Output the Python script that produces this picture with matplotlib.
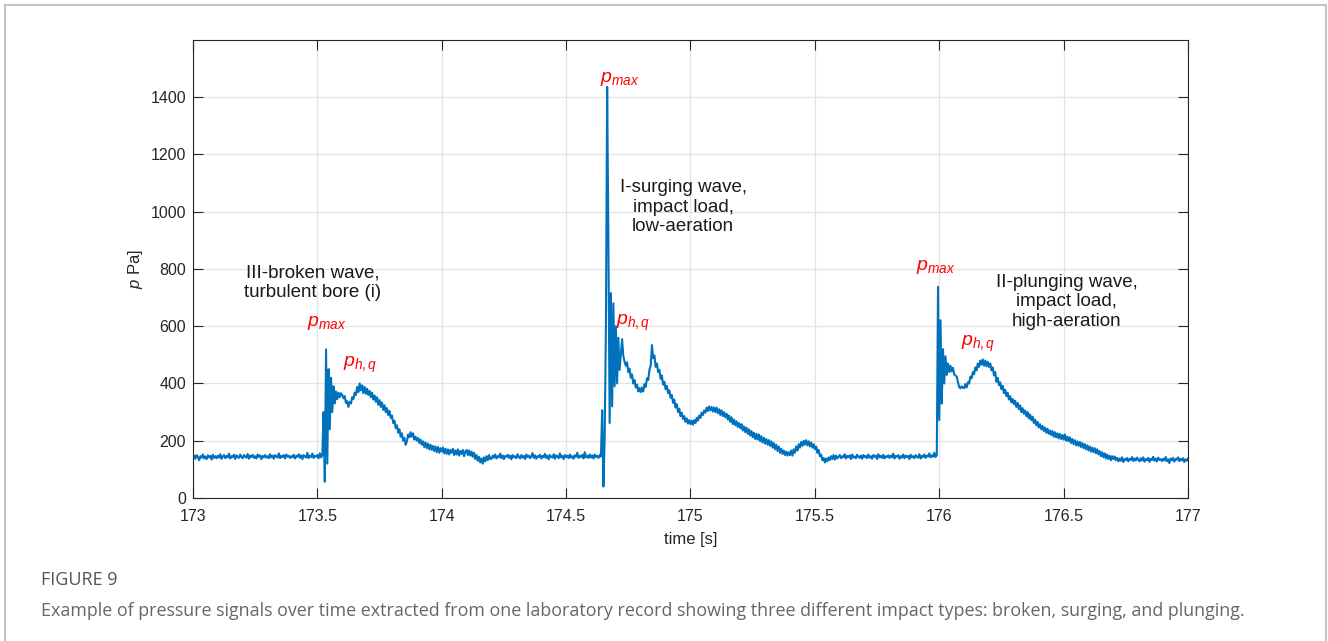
import numpy as np
import matplotlib.pyplot as plt
from matplotlib.lines import Line2D

plt.rcParams['font.family'] = ['Liberation Sans', 'DejaVu Sans']
plt.rcParams['mathtext.fontset'] = 'custom'
plt.rcParams['mathtext.it'] = 'Liberation Sans:italic'
plt.rcParams['mathtext.rm'] = 'Liberation Sans'

# sampling: 5 ms steps from 173.0 s to 177.0 s
T_START = 173.0
DT = 0.005

# pressure [Pa], one row = 0.1 s
p_sig = [
    140, 148, 137, 150, 143, 132, 146, 141, 152, 138, 145, 136, 149, 142, 147, 134, 151, 140, 146, 139,   # 173.0
    148, 141, 153, 137, 145, 150, 139, 147, 142, 155, 138, 146, 143, 151, 136, 149, 144, 140, 152, 143,   # 173.1
    139, 150, 145, 141, 154, 137, 148, 143, 151, 140, 146, 138, 152, 144, 149, 136, 147, 142, 150, 141,   # 173.2
    146, 139, 153, 142, 148, 137, 150, 145, 141, 156, 139, 147, 143, 150, 138, 152, 144, 148, 140, 146,   # 173.3
    142, 151, 138, 147, 144, 153, 140, 149, 136, 150, 145, 141, 158, 139, 148, 143, 155, 140, 147, 144,   # 173.4
    150, 139, 156, 142, 148, 300, 57, 519, 120, 450, 240, 420, 300, 390, 330, 372, 345, 368, 352, 366,    # 173.5
    360, 348, 356, 332, 338, 318, 336, 330, 352, 346, 368, 360, 388, 370, 400, 376, 394, 366, 388, 364,   # 173.6
    382, 360, 374, 352, 368, 344, 358, 336, 352, 326, 342, 318, 334, 308, 324, 300, 314, 290, 304, 280,   # 173.7
    288, 262, 270, 244, 254, 228, 240, 214, 226, 200, 210, 186, 198, 222, 212, 230, 214, 226, 204, 214,   # 173.8
    200, 210, 192, 204, 186, 198, 178, 194, 174, 190, 170, 186, 168, 182, 164, 180, 160, 178, 158, 174,   # 173.9
    162, 176, 156, 172, 154, 170, 152, 168, 158, 172, 150, 166, 152, 170, 148, 164, 154, 168, 146, 162,   # 174.0
    168, 150, 166, 148, 162, 144, 158, 136, 150, 130, 144, 124, 138, 120, 142, 128, 146, 132, 150, 136,   # 174.1
    137, 148, 141, 152, 138, 146, 143, 155, 139, 149, 136, 147, 144, 151, 140, 148, 135, 150, 142, 146,   # 174.2
    139, 153, 144, 138, 150, 141, 147, 136, 152, 143, 148, 139, 145, 157, 140, 149, 137, 146, 143, 151,   # 174.3
    138, 147, 142, 154, 140, 148, 135, 150, 144, 141, 153, 137, 149, 145, 139, 156, 142, 147, 136, 150,   # 174.4
    143, 148, 139, 152, 141, 146, 137, 149, 144, 158, 140, 147, 143, 151, 138, 160, 142, 148, 140, 152,   # 174.5
    141, 149, 138, 152, 143, 147, 140, 150, 145, 307, 40, 210, 600, 1436, 890, 262, 716, 320, 680, 390,   # 174.6
    600, 400, 560, 447, 500, 555, 496, 476, 462, 474, 440, 452, 420, 432, 400, 412, 386, 396, 372, 384,   # 174.7
    370, 386, 372, 398, 388, 418, 412, 448, 462, 534, 488, 498, 458, 470, 440, 448, 416, 428, 396, 406,   # 174.8
    380, 392, 366, 376, 350, 360, 332, 344, 316, 328, 300, 312, 286, 298, 276, 286, 266, 278, 260, 272,   # 174.9
    258, 270, 256, 272, 262, 280, 270, 288, 280, 298, 290, 306, 298, 316, 304, 320, 306, 318, 302, 316,   # 175.0
    300, 316, 296, 310, 290, 306, 286, 300, 282, 294, 274, 288, 266, 282, 258, 274, 254, 268, 248, 262,   # 175.1
    244, 258, 236, 250, 230, 246, 224, 240, 218, 234, 212, 228, 206, 224, 204, 222, 198, 216, 194, 210,   # 175.2
    190, 206, 186, 202, 182, 198, 176, 192, 170, 186, 164, 180, 158, 172, 154, 166, 150, 162, 148, 160,   # 175.3
    150, 166, 148, 170, 158, 180, 166, 188, 176, 196, 182, 200, 186, 202, 184, 198, 180, 194, 176, 188,   # 175.4
    170, 180, 158, 168, 146, 152, 132, 140, 124, 138, 128, 142, 132, 146, 136, 150, 134, 148, 138, 144,   # 175.5
    150, 139, 146, 142, 153, 138, 147, 143, 149, 136, 152, 141, 145, 139, 151, 144, 140, 148, 137, 150,   # 175.6
    143, 147, 139, 152, 141, 146, 137, 150, 144, 148, 136, 153, 142, 147, 140, 151, 138, 146, 143, 149,   # 175.7
    140, 148, 142, 155, 138, 147, 144, 150, 137, 146, 141, 152, 139, 148, 143, 147, 136, 151, 142, 146,   # 175.8
    139, 150, 144, 141, 153, 138, 147, 143, 152, 140, 148, 145, 156, 142, 149, 144, 158, 143, 150, 738,   # 175.9
    272, 621, 330, 520, 400, 495, 430, 470, 440, 462, 442, 455, 432, 428, 424, 405, 388, 383, 390, 385,   # 176.0
    384, 398, 386, 404, 400, 424, 418, 440, 432, 456, 446, 470, 458, 480, 466, 484, 462, 480, 460, 476,   # 176.1
    458, 470, 446, 456, 428, 440, 406, 420, 394, 404, 380, 392, 366, 378, 356, 368, 344, 356, 334, 346,   # 176.2
    328, 340, 318, 332, 310, 324, 300, 314, 294, 306, 286, 300, 278, 292, 272, 284, 262, 274, 254, 266,   # 176.3
    246, 258, 240, 252, 234, 246, 228, 242, 224, 236, 220, 234, 214, 230, 212, 226, 208, 224, 206, 220,   # 176.4
    204, 222, 200, 214, 198, 212, 192, 206, 188, 202, 184, 198, 182, 196, 178, 192, 174, 188, 170, 184,   # 176.5
    166, 180, 162, 176, 160, 174, 156, 170, 152, 164, 146, 160, 142, 156, 138, 152, 136, 148, 132, 146,   # 176.6
    136, 145, 132, 140, 128, 138, 130, 142, 126, 136, 132, 140, 128, 137, 133, 143, 129, 138, 131, 141,   # 176.7
    134, 128, 139, 131, 142, 127, 136, 132, 140, 126, 137, 133, 144, 130, 138, 128, 141, 133, 136, 129,   # 176.8
    137, 131, 143, 128, 135, 122, 138, 132, 140, 127, 136, 134, 142, 129, 137, 131, 139, 126, 135, 130,   # 176.9
    138,                                                                                                  # 177.0
]
t_sig = T_START + DT * np.arange(len(p_sig))

# impact type descriptions (time, pressure, text)
wave_labels = [
    (173.481, 751, 'III-broken wave,\nturbulent bore (i)'),
    (174.971, 1016, 'I-surging wave,\nimpact load,\nlow-aeration'),
    (176.512, 685, 'II-plunging wave,\nimpact load,\nhigh-aeration'),
]
# peak markers (time, pressure, text)
peak_labels = [
    (173.537, 611, r'$p_{max}$'),
    (173.671, 464, r'$p_{h,q}$'),
    (174.717, 1465, r'$p_{max}$'),
    (174.770, 612, r'$p_{h,q}$'),
    (175.986, 808, r'$p_{max}$'),
    (176.155, 540, r'$p_{h,q}$'),
]

fig = plt.figure(figsize=(13.28, 6.41), dpi=100)
ax = fig.add_axes([0.1453, 0.2231, 0.7493, 0.7145])

ax.plot(t_sig, p_sig, color='#0072BD', lw=1.5)

ax.set_xlim(173, 177)
ax.set_ylim(0, 1600)
ax.set_xticks(np.arange(173, 177.01, 0.5))
ax.set_xticklabels(['173', '173.5', '174', '174.5', '175', '175.5', '176', '176.5', '177'])
ax.set_yticks(np.arange(0, 1401, 200))
ax.grid(True, color='#e3e3e3', lw=0.9)
ax.set_axisbelow(True)
ax.tick_params(direction='in', length=7, width=0.8, colors='#262626', labelsize=11.5,
               top=True, right=True)
ax.tick_params(axis='x', pad=8)
ax.tick_params(axis='y', pad=5)
for s in ax.spines.values():
    s.set_color('#262626')
    s.set_linewidth(0.8)

ax.set_xlabel('time [s]', fontsize=12, color='#262626', labelpad=6)
ax.set_ylabel(r'$p$ Pa]', fontsize=12, color='#262626', labelpad=4)

for x, y, txt in wave_labels:
    ax.text(x, y, txt, ha='center', va='center', fontsize=13.5, color='#1a1a1a',
            linespacing=1.2)
for x, y, txt in peak_labels:
    ax.text(x, y, txt, ha='center', va='center', fontsize=14, color='#ff0000')

fig.text(0.0309, 0.095, 'FIGURE 9', fontsize=13, color='#555555', family='Open Sans',
         va='center', ha='left')
fig.text(0.0309, 0.047, 'Example of pressure signals over time extracted from one laboratory record '
         'showing three different impact types: broken, surging, and plunging.',
         fontsize=12.9, color='#666666', family='Open Sans', va='center', ha='left')

# outer frame (open at the bottom)
frame_kw = dict(color='#c4c4c4', lw=1.5, transform=fig.transFigure)
fig.add_artist(Line2D([0.0034, 0.0034], [0.0, 0.9925], **frame_kw))
fig.add_artist(Line2D([0.0034, 0.9985], [0.9925, 0.9925], **frame_kw))
fig.add_artist(Line2D([0.9985, 0.9985], [0.0, 0.9925], **frame_kw))

fig.savefig('out.png', dpi=100)
